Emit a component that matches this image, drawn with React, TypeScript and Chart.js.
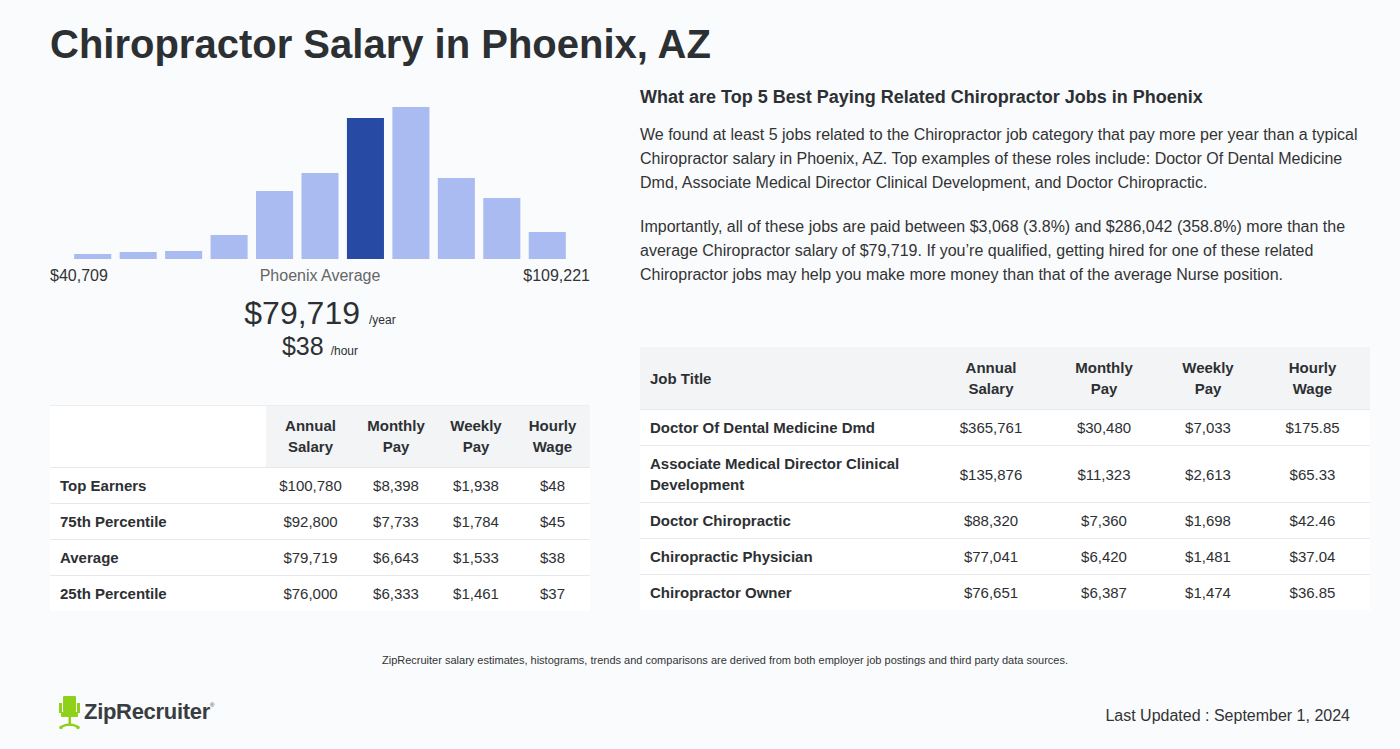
import React, { useEffect, useRef } from "react";
import { Chart, registerables } from "chart.js";

Chart.register(...registerables);

const binLabels = ["B1", "B2", "B3", "B4", "B5", "B6", "B7", "B8", "B9", "B10", "B11"];
const binCounts = [5, 7, 8, 24, 68, 86, 141, 152, 81, 61, 27];
const highlightIndex = 6;

const minLabel = "$40,709";
const maxLabel = "$109,221";
const avgYear = "$79,719";
const avgHour = "$38";

const leftHeaders = ["Annual Salary", "Monthly Pay", "Weekly Pay", "Hourly Wage"];
const leftRows = ["Top Earners", "75th Percentile", "Average", "25th Percentile"];
const leftAnnual = ["$100,780", "$92,800", "$79,719", "$76,000"];
const leftMonthly = ["$8,398", "$7,733", "$6,643", "$6,333"];
const leftWeekly = ["$1,938", "$1,784", "$1,533", "$1,461"];
const leftHourly = ["$48", "$45", "$38", "$37"];

const jobTitles = [
  "Doctor Of Dental Medicine Dmd",
  "Associate Medical Director Clinical Development",
  "Doctor Chiropractic",
  "Chiropractic Physician",
  "Chiropractor Owner",
];
const jobAnnual = ["$365,761", "$135,876", "$88,320", "$77,041", "$76,651"];
const jobMonthly = ["$30,480", "$11,323", "$7,360", "$6,420", "$6,387"];
const jobWeekly = ["$7,033", "$2,613", "$1,698", "$1,481", "$1,474"];
const jobHourly = ["$175.85", "$65.33", "$42.46", "$37.04", "$36.85"];

const TEXT = "#2d3033";
const FONT = "'Liberation Sans', Arial, sans-serif";

function Histogram() {
  const ref = useRef<HTMLCanvasElement | null>(null);
  useEffect(() => {
    if (!ref.current) return;
    const chart = new Chart(ref.current, {
      type: "bar",
      data: {
        labels: binLabels,
        datasets: [
          {
            data: binCounts,
            backgroundColor: binCounts.map((_, i) => (i === highlightIndex ? "#274ba5" : "#a9bbf0")),
            borderWidth: 0,
            barPercentage: 0.815,
            categoryPercentage: 1,
          },
        ],
      },
      options: {
        animation: false,
        responsive: false,
        maintainAspectRatio: false,
        layout: { padding: 0 },
        plugins: { legend: { display: false }, tooltip: { enabled: false } },
        scales: {
          x: { display: false, offset: true },
          y: { display: false, min: 0, max: 152 },
        },
      },
    });
    return () => chart.destroy();
  }, []);
  return (
    <div style={{ position: "absolute", left: 70, top: 107, width: 500, height: 152 }}>
      <canvas ref={ref} width={500} height={152} style={{ width: 500, height: 152, display: "block" }} />
    </div>
  );
}

const abs = (l: number, t: number, extra: React.CSSProperties = {}): React.CSSProperties => ({
  position: "absolute",
  left: l,
  top: t,
  ...extra,
});

function Logo() {
  return (
    <div style={abs(58, 694, { display: "flex", alignItems: "center" })}>
      <svg width="24" height="36" viewBox="0 0 24 36">
        <rect x="5" y="2" width="13" height="16" rx="1" fill="#8fd11a" />
        <rect x="1" y="9" width="3" height="10" fill="#8fd11a" />
        <rect x="19" y="9" width="3" height="10" fill="#8fd11a" />
        <rect x="3" y="18" width="17" height="5" rx="1" fill="#8fd11a" />
        <rect x="10.5" y="23" width="2.5" height="9" fill="#8fd11a" />
        <path d="M3 33 Q11.7 28 20 33" stroke="#8fd11a" strokeWidth="2.5" fill="none" />
        <circle cx="3" cy="33.5" r="1.8" fill="#8fd11a" />
        <circle cx="20" cy="33.5" r="1.8" fill="#8fd11a" />
      </svg>
      <span style={{ fontFamily: FONT, fontWeight: 700, fontSize: 22, color: "#3a3d40", marginLeft: 2, letterSpacing: -0.3 }}>
        ZipRecruiter
      </span>
      <span style={{ fontSize: 6, color: "#3a3d40", alignSelf: "flex-start", marginTop: 8 }}>®</span>
    </div>
  );
}

export default function App() {
  const cellBase: React.CSSProperties = {
    fontSize: 15,
    lineHeight: "21px",
    color: TEXT,
    textAlign: "center",
    padding: "7px 0",
    borderBottom: "1px solid #e6e8eb",
    background: "#ffffff",
  };
  const headCell: React.CSSProperties = {
    ...cellBase,
    fontWeight: 700,
    background: "#f3f4f6",
    padding: "10px 0",
    height: 41,
  };
  const leftHead: React.CSSProperties = {
    ...cellBase,
    fontWeight: 700,
    background: "#f3f4f6",
    padding: "9px 0 10px",
  };
  const lastRow = (c: React.CSSProperties, last: boolean): React.CSSProperties =>
    last ? { ...c, borderBottom: "none" } : c;
  return (
    <div
      style={{
        position: "fixed",
        left: 0,
        top: 0,
        width: 1400,
        height: 749,
        background: "#f9fbfd",
        fontFamily: FONT,
        color: TEXT,
        overflow: "hidden",
      }}
    >
      <div style={abs(50, 19, { fontSize: 40, fontWeight: 700, lineHeight: "50px", color: TEXT })}>
        Chiropractor Salary in Phoenix, AZ
      </div>

      <Histogram />

      <div style={abs(50, 266, { fontSize: 16, lineHeight: "20px", color: "#333" })}>{minLabel}</div>
      <div style={abs(50, 266, { width: 540, textAlign: "center", fontSize: 16, lineHeight: "20px", color: "#666" })}>
        Phoenix Average
      </div>
      <div style={abs(50, 266, { width: 540, textAlign: "right", fontSize: 16, lineHeight: "20px", color: "#333" })}>
        {maxLabel}
      </div>

      <div style={abs(50, 293, { width: 540, textAlign: "center", lineHeight: "40px", color: TEXT })}>
        <span style={{ fontSize: 32 }}>{avgYear}</span>
        <span style={{ fontSize: 12, marginLeft: 9 }}>/year</span>
      </div>
      <div style={abs(50, 331, { width: 540, textAlign: "center", lineHeight: "30px", color: TEXT })}>
        <span style={{ fontSize: 25 }}>{avgHour}</span>
        <span style={{ fontSize: 12, marginLeft: 7 }}>/hour</span>
      </div>

      <table
        style={{
          ...abs(50, 405),
          width: 540,
          borderCollapse: "collapse",
          tableLayout: "fixed",
          borderTop: "1px solid #eceef0",
        }}
      >
        <colgroup>
          <col style={{ width: 216 }} />
          <col style={{ width: 89 }} />
          <col style={{ width: 82 }} />
          <col style={{ width: 78 }} />
          <col style={{ width: 75 }} />
        </colgroup>
        <thead>
          <tr>
            <th style={{ ...leftHead, background: "#ffffff" }}></th>
            {leftHeaders.map((h) => (
              <th key={h} style={leftHead}>
                {h.split(" ")[0]}
                <br />
                {h.split(" ")[1]}
              </th>
            ))}
          </tr>
        </thead>
        <tbody>
          {leftRows.map((r, i) => {
            const last = i === leftRows.length - 1;
            const c = lastRow(cellBase, last);
            return (
              <tr key={r}>
                <td style={{ ...c, textAlign: "left", fontWeight: 700, paddingLeft: 10 }}>{r}</td>
                <td style={c}>{leftAnnual[i]}</td>
                <td style={c}>{leftMonthly[i]}</td>
                <td style={c}>{leftWeekly[i]}</td>
                <td style={c}>{leftHourly[i]}</td>
              </tr>
            );
          })}
        </tbody>
      </table>

      <div style={abs(640, 86, { fontSize: 18, fontWeight: 700, lineHeight: "22px", color: TEXT })}>
        What are Top 5 Best Paying Related Chiropractor Jobs in Phoenix
      </div>
      <div style={abs(640, 123, { width: 730, fontSize: 16, lineHeight: "24px", color: "#333" })}>
        We found at least 5 jobs related to the Chiropractor job category that pay more per year than a typical
        Chiropractor salary in Phoenix, AZ. Top examples of these roles include: Doctor Of Dental Medicine Dmd,
        Associate Medical Director Clinical Development, and Doctor Chiropractic.
      </div>
      <div style={abs(640, 215, { width: 730, fontSize: 16, lineHeight: "24px", color: "#333" })}>
        Importantly, all of these jobs are paid between $3,068 (3.8%) and $286,042 (358.8%) more than the average
        Chiropractor salary of $79,719. If you’re qualified, getting hired for one of these related Chiropractor
        jobs may help you make more money than that of the average Nurse position.
      </div>

      <table style={{ ...abs(640, 347), width: 730, borderCollapse: "collapse", tableLayout: "fixed" }}>
        <colgroup>
          <col style={{ width: 295 }} />
          <col style={{ width: 112 }} />
          <col style={{ width: 114 }} />
          <col style={{ width: 94 }} />
          <col style={{ width: 115 }} />
        </colgroup>
        <thead>
          <tr>
            <th style={{ ...headCell, textAlign: "left", paddingLeft: 10 }}>Job Title</th>
            {leftHeaders.map((h) => (
              <th key={h} style={headCell}>
                {h.split(" ")[0]}
                <br />
                {h.split(" ")[1]}
              </th>
            ))}
          </tr>
        </thead>
        <tbody>
          {jobTitles.map((t, i) => {
            const last = i === jobTitles.length - 1;
            const c = lastRow(cellBase, last);
            return (
              <tr key={t}>
                <td style={{ ...c, textAlign: "left", fontWeight: 700, paddingLeft: 10, paddingRight: 20 }}>{t}</td>
                <td style={c}>{jobAnnual[i]}</td>
                <td style={c}>{jobMonthly[i]}</td>
                <td style={c}>{jobWeekly[i]}</td>
                <td style={c}>{jobHourly[i]}</td>
              </tr>
            );
          })}
        </tbody>
      </table>

      <div style={abs(0, 653, { width: 1450, textAlign: "center", fontSize: 11, lineHeight: "14px", color: "#333" })}>
        ZipRecruiter salary estimates, histograms, trends and comparisons are derived from both employer job postings
        and third party data sources.
      </div>

      <Logo />

      <div style={abs(1000, 706, { width: 350, textAlign: "right", fontSize: 16, lineHeight: "20px", color: "#333" })}>
        Last Updated : September 1, 2024
      </div>
    </div>
  );
}
